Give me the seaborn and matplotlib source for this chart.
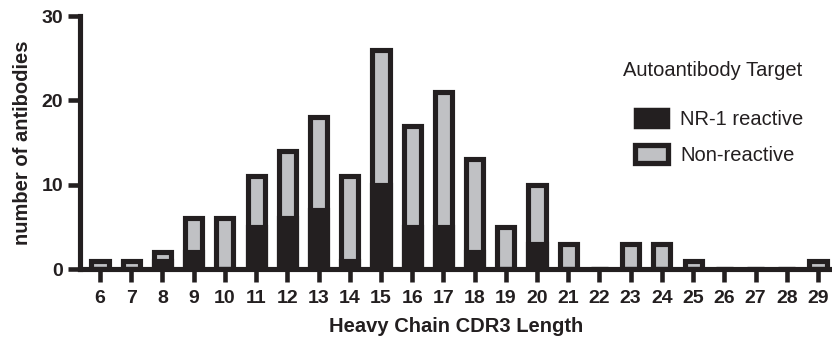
import numpy as np
import pandas as pd
import seaborn as sns
import matplotlib.pyplot as plt
from matplotlib.patches import Patch

# Heavy chain CDR3 length distribution
lengths = list(range(6, 30))
total = [1, 1, 2, 6, 6, 11, 14, 18, 11, 26, 17, 21, 13, 5, 10, 3, 0, 3, 3, 1, 0, 0, 0, 1]
nr1_reactive = [0, 0, 1, 2, 0, 5, 6, 7, 1, 10, 5, 5, 2, 0, 3, 0, 0, 0, 0, 0, 0, 0, 0, 0]

dark = "#231f20"
grey = "#c0c1c4"

df = pd.DataFrame({"length": lengths, "total": total, "nr1": nr1_reactive})

sns.set_style("ticks")
plt.rcParams['font.family'] = ['Liberation Sans', 'DejaVu Sans']

fig = plt.figure(figsize=(8.32, 3.38), dpi=100)
ax = fig.add_axes([0.0962, 0.204, 0.9038, 0.7485])

# grey = all antibodies (non-reactive shows above), black = NR-1 reactive part
sns.barplot(data=df, x="length", y="total", native_scale=True, width=0.55,
            color=grey, edgecolor=dark, linewidth=3.7, saturation=1,
            errorbar=None, ax=ax)
sns.barplot(data=df, x="length", y="nr1", native_scale=True, width=0.55,
            color=dark, edgecolor=dark, linewidth=3.7, saturation=1,
            errorbar=None, ax=ax)

ax.set_xlim(5.36, 29.45)
ax.set_ylim(0, 30)
ax.set_xticks(lengths)
ax.set_xticklabels([str(v) for v in lengths])
ax.set_yticks([0, 10, 20, 30])

sns.despine(ax=ax)
for side in ["left", "bottom"]:
    ax.spines[side].set_linewidth(3.7)
    ax.spines[side].set_color(dark)
    ax.spines[side].set_zorder(5)
ax.tick_params(axis="both", length=9, width=3.3, color=dark, labelcolor=dark,
               labelsize=14)
ax.tick_params(axis="x", pad=6)
ax.tick_params(axis="y", pad=3)
for lab in ax.get_xticklabels() + ax.get_yticklabels():
    lab.set_fontweight("bold")

ax.set_xlabel("Heavy Chain CDR3 Length", fontsize=14.5, fontweight="bold",
              color=dark, labelpad=7)
ax.set_ylabel("number of antibodies", fontsize=14.5, fontweight="bold",
              color=dark, labelpad=7)

handles = [
    Patch(facecolor=dark, edgecolor=dark, linewidth=2.5, label="NR-1 reactive"),
    Patch(facecolor=grey, edgecolor=dark, linewidth=3.8, label="Non-reactive"),
]
fig.text(623 / 832, 1 - 71 / 338, "Autoantibody Target", fontsize=14.5,
         color=dark, ha="left", va="center")
leg = fig.legend(handles=handles, loc="upper left",
                 bbox_to_anchor=(625 / 832, 1 - 99 / 338),
                 bbox_transform=fig.transFigure, frameon=False,
                 fontsize=14.5, borderpad=0,
                 handlelength=1.65, handleheight=1.0, handletextpad=0.6,
                 labelspacing=0.8)
for t in leg.get_texts():
    t.set_color(dark)

fig.savefig("out.png", dpi=100)
